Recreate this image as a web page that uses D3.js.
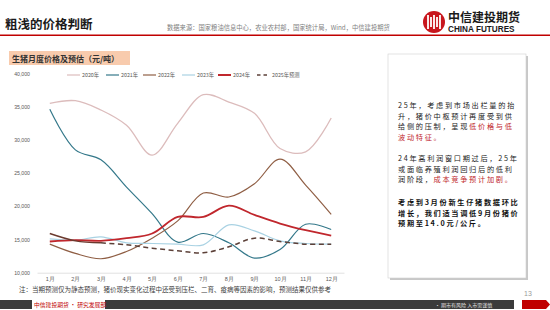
<!DOCTYPE html>
<html><head><meta charset="utf-8">
<script src="https://cdn.jsdelivr.net/npm/d3@7/dist/d3.min.js"></script>
<style>
body{margin:0;background:#fff;}
svg{display:block;font-family:"Noto Sans CJK SC","Noto Sans",sans-serif;}
</style></head>
<body>
<svg id="c" width="550" height="310"></svg>
<script>
const months = ["1月","2月","3月","4月","5月","6月","7月","8月","9月","10月","11月","12月"];
const yTicks = [10000,15000,20000,25000,30000,35000,40000];
const y2020 = [35500,35900,34500,32200,27700,32500,36800,35700,34000,28700,28200,33300];
const y2021 = [34600,28500,27000,22900,18900,14600,15900,14500,12200,13500,17300,16500];
const y2022 = [14300,12900,12100,13200,15200,17800,22000,21400,23400,27100,23200,18800];
const y2023 = [15100,14900,15400,14500,14400,14300,14200,17200,16300,14800,14400,14300];
const y2024 = [14700,14900,14800,15200,15900,18400,18400,20100,18700,17400,16400,15600];
const months2025Actual = ["1月","2月","3月"];
const y2025Actual = [15900,14800,14500];
const months2025Forecast = ["3月","4月","5月","6月","7月","8月","9月","10月","11月","12月"];
const y2025Forecast = [14500,14200,13700,13300,13000,13900,15200,14700,14300,14300];
const seriesNames = ["2020年","2021年","2022年","2023年","2024年","2025年预测"];

const svg = d3.select("#c");
const red = "#c0272d";

// ---------- header ----------
svg.append("text").attr("x",5).attr("y",29).attr("font-size",12.5).attr("font-weight","bold")
  .attr("fill","#1a1a1a").text("粗浅的价格判断");
svg.append("text").attr("x",167).attr("y",30).attr("font-size",6.3).attr("fill","#7f7f7f")
  .text("数据来源：国家粮油信息中心，农业农村部，国家统计局，Wind，中信建投期货");
svg.append("rect").attr("x",0).attr("y",34.5).attr("width",550).attr("height",1.5).attr("fill","#c00000");
// logo
const lg = svg.append("g").attr("transform","translate(434,22)");
lg.append("circle").attr("r",11).attr("fill","#c8161d");
[-6,-3,0,3,6].forEach((dx,i)=>{
  lg.append("rect").attr("x",dx-0.9).attr("y",i%2? -5:-7).attr("width",1.8).attr("height",i%2?10:14).attr("fill","#fff");
});
svg.append("text").attr("x",448).attr("y",22).attr("font-size",12).attr("font-weight","bold")
  .attr("fill","#1a1a1a").text("中信建投期货");
svg.append("text").attr("x",448).attr("y",31.5).attr("font-size",8.2).attr("font-weight","bold")
  .attr("font-family","Liberation Sans, Arial, sans-serif").attr("fill","#1a1a1a").text("CHINA FUTURES");

// ---------- chart subtitle ----------
svg.append("rect").attr("x",9).attr("y",51).attr("width",121).attr("height",14).attr("fill","#f8cbad");
svg.append("text").attr("x",12).attr("y",61.5).attr("font-size",8).attr("font-weight","bold")
  .attr("fill","#333").text("生猪月度价格及预估（元/吨）");

// ---------- chart ----------
const x = d3.scalePoint().domain(months).range([37,344]).padding(0.5);
const y = d3.scaleLinear().domain([10000,40000]).range([272.7,73.5]);

const yAxis = d3.axisLeft(y).tickValues(yTicks).tickSize(0).tickFormat(d3.format(","));
const ya = svg.append("g").attr("transform","translate(33,0)").call(yAxis);
ya.select(".domain").remove();
ya.selectAll("text").attr("font-size",5.2).attr("fill","#595959").attr("dx",0)
  .attr("font-family","Liberation Sans, Arial, sans-serif");

const xAxis = d3.axisBottom(x).tickSize(0).tickPadding(4);
const xa = svg.append("g").attr("transform","translate(0,272.7)").call(xAxis);
xa.select(".domain").attr("stroke","#d9d9d9").attr("stroke-width",0.8);
xa.selectAll("text").attr("font-size",5.5).attr("fill","#595959");

const line = d3.line().x(d=>x(d[0])).y(d=>y(d[1])).curve(d3.curveCatmullRom.alpha(0.5));
const specs = [
  {vals:y2020, m:months, color:"#dcbcbc", w:1.3},
  {vals:y2021, m:months, color:"#34788a", w:1.2},
  {vals:y2022, m:months, color:"#8f5e44", w:1.2},
  {vals:y2023, m:months, color:"#a9d2e3", w:1.2},
  {vals:y2024, m:months, color:red, w:1.8},
  {vals:y2025Actual, m:months2025Actual, color:"#6b3a2e", w:1.4},
  {vals:y2025Forecast, m:months2025Forecast, color:"#5c4038", w:1.5, dash:"5,3.5"}
];
specs.forEach(s=>{
  svg.append("path").datum(s.m.map((mm,i)=>[mm,s.vals[i]]))
    .attr("d",line).attr("fill","none").attr("stroke",s.color).attr("stroke-width",s.w)
    .attr("stroke-dasharray",s.dash||null);
});

// legend
const legendX = [67,106,143,182,218,257];
const legendSpec = [specs[0],specs[1],specs[2],specs[3],specs[4],specs[6]];
seriesNames.forEach((n,i)=>{
  const s = legendSpec[i];
  svg.append("line").attr("x1",legendX[i]).attr("x2",legendX[i]+13).attr("y1",75).attr("y2",75)
    .attr("stroke",s.color).attr("stroke-width",s===specs[4]?2:(s.dash?1.6:1.2))
    .attr("stroke-dasharray",s.dash?"3.5,3":null);
  svg.append("text").attr("x",legendX[i]+15).attr("y",77).attr("font-size",5.3).attr("fill","#595959").text(n);
});

// note
svg.append("text").attr("x",19).attr("y",292).attr("font-size",6.5).attr("fill","#404040")
  .text("注：当期预测仅为静态预测，猪价现实变化过程中还受到压栏、二育、疫病等因素的影响，预测结果仅供参考");

// ---------- right text box ----------
svg.append("rect").attr("x",390).attr("y",56).attr("width",138).attr("height",224).attr("fill","#c8c8c8");
svg.append("rect").attr("x",388).attr("y",54).attr("width",138).attr("height",224).attr("fill","#fff")
  .attr("stroke","#d0d0d0").attr("stroke-width",0.6);
const paras = [
  {y:108, bold:false, lines:[
    [["25年，考虑到市场出栏量的抬","#222"]],
    [["升，猪价中枢预计再度受到供","#222"]],
    [["给侧的压制，呈现","#222"],["低价格与低",red]],
    [["波动特征。",red]]]},
  {y:161, bold:false, lines:[
    [["24年高利润窗口期过后，25年","#222"]],
    [["或面临养殖利润回归后的低利","#222"]],
    [["润阶段，","#222"],["成本竞争预计加剧。",red]]]},
  {y:205, bold:true, lines:[
    [["考虑到3月份新生仔猪数据环比","#111"]],
    [["增长，我们适当调低9月份猪价","#111"]],
    [["预期至14.0元/公斤。","#111"]]]}
];
paras.forEach(p=>{
  const t = svg.append("text").attr("x",398).attr("y",p.y).attr("font-size",7.2)
    .attr("letter-spacing",1.7).attr("font-weight",p.bold?"bold":"normal");
  p.lines.forEach((ln,i)=>{
    ln.forEach((seg,j)=>{
      const ts = t.append("tspan").attr("fill",seg[1]).text(seg[0]);
      if(j===0){ ts.attr("x",398).attr("y",p.y+i*10.5); }
    });
  });
});

// ---------- footer ----------
svg.append("rect").attr("x",0).attr("y",300).attr("width",32).attr("height",9).attr("fill","#3b3b3b");
svg.append("rect").attr("x",105).attr("y",300).attr("width",409).attr("height",9).attr("fill","#3b3b3b");
svg.append("text").attr("x",34).attr("y",307).attr("font-size",5.8).attr("fill","#c00000")
  .text("中信建投期货 • 研究发展部");
svg.append("text").attr("x",435).attr("y",306.8).attr("font-size",5).attr("fill","#e0e0e0")
  .text("• 期市有风险  入市需谨慎");
svg.append("path").attr("d","M522,300 L546,300 L550,304.5 L546,309 L522,309 Z").attr("fill","#c00000");
svg.append("text").attr("x",524).attr("y",296).attr("font-size",7).attr("fill","#9a9a9a")
  .attr("font-family","Liberation Sans, Arial, sans-serif").text("13");
</script>
</body></html>
